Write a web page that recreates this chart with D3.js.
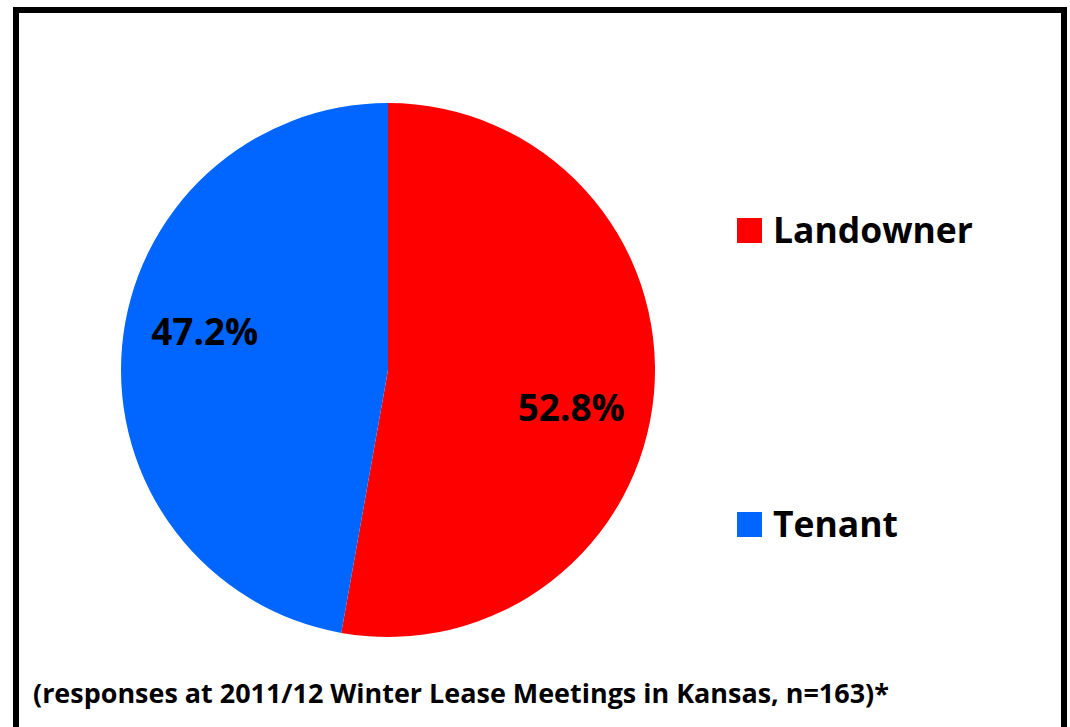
<!DOCTYPE html>
<html>
<head>
<meta charset="utf-8">
<script src="https://cdn.jsdelivr.net/npm/d3@7"></script>
<style>
  html, body { margin: 0; padding: 0; background: #fff; }
  svg { display: block; }
  text { font-family: "Open Sans", Lato, sans-serif; font-weight: 700; fill: #000; }
</style>
</head>
<body>
<svg id="chart" width="1070" height="727"></svg>
<script>
// Respondent roles
const categories = ["Landowner", "Tenant"];
const shares = [52.8, 47.2];
const colors = ["#FF0000", "#0066FF"];
const footnote = "(responses at 2011/12 Winter Lease Meetings in Kansas, n=163)*";

const svg = d3.select("#chart");
const W = 1070, H = 727;

// Scale a text element's font size so it spans the given width
function fitWidth(sel, width) {
  sel.each(function () {
    const el = d3.select(this);
    const fs = parseFloat(el.attr("font-size"));
    const w = this.getComputedTextLength();
    if (w > 0) el.attr("font-size", (fs * width / w).toFixed(2));
  });
}

// Outer frame (bottom edge runs off the page)
svg.append("rect")
  .attr("x", 16).attr("y", 10)
  .attr("width", 1048).attr("height", H + 20)
  .attr("fill", "#fff")
  .attr("stroke", "#000").attr("stroke-width", 6);

const cx = 388, cy = 370, radius = 267;

const pie = d3.pie().sort(null).value(d => d.value);
const data = categories.map((c, i) => ({ name: c, value: shares[i], color: colors[i] }));
const arcs = pie(data);

const arc = d3.arc().innerRadius(0).outerRadius(radius);
const labelArc = d3.arc().innerRadius(184).outerRadius(184);

const g = svg.append("g").attr("transform", `translate(${cx},${cy})`);

g.selectAll("path.slice")
  .data(arcs)
  .join("path")
  .attr("class", "slice")
  .attr("d", arc)
  .attr("fill", d => d.data.color);

// Percentage labels, nudged away from the horizontal midline
g.selectAll("text.pct")
  .data(arcs)
  .join("text")
  .attr("class", "pct")
  .attr("text-anchor", "middle")
  .attr("font-size", 36)
  .attr("x", d => labelArc.centroid(d)[0])
  .attr("y", d => {
    const c = labelArc.centroid(d)[1];
    return c + (c > 0 ? 1 : -1) * 22 + 13;
  })
  .text(d => d.data.value.toFixed(1) + "%")
  .call(fitWidth, 107);

// Legend
const legendY = d3.scalePoint().domain(categories).range([230, 524]);
const legendWidths = { Landowner: 200, Tenant: 125 };
const item = svg.append("g").selectAll("g.item")
  .data(data)
  .join("g")
  .attr("class", "item")
  .attr("transform", d => `translate(737,${legendY(d.name)})`);

item.append("rect")
  .attr("x", 0).attr("y", -12)
  .attr("width", 25).attr("height", 25)
  .attr("fill", d => d.color);

item.append("text")
  .attr("x", 36).attr("y", 13)
  .attr("font-size", 36)
  .text(d => d.name)
  .each(function (d) { d3.select(this).call(fitWidth, legendWidths[d.name]); });

// Footnote
svg.append("text")
  .attr("x", 33).attr("y", 703)
  .attr("font-size", 26)
  .text(footnote)
  .call(fitWidth, 856);
</script>
</body>
</html>
